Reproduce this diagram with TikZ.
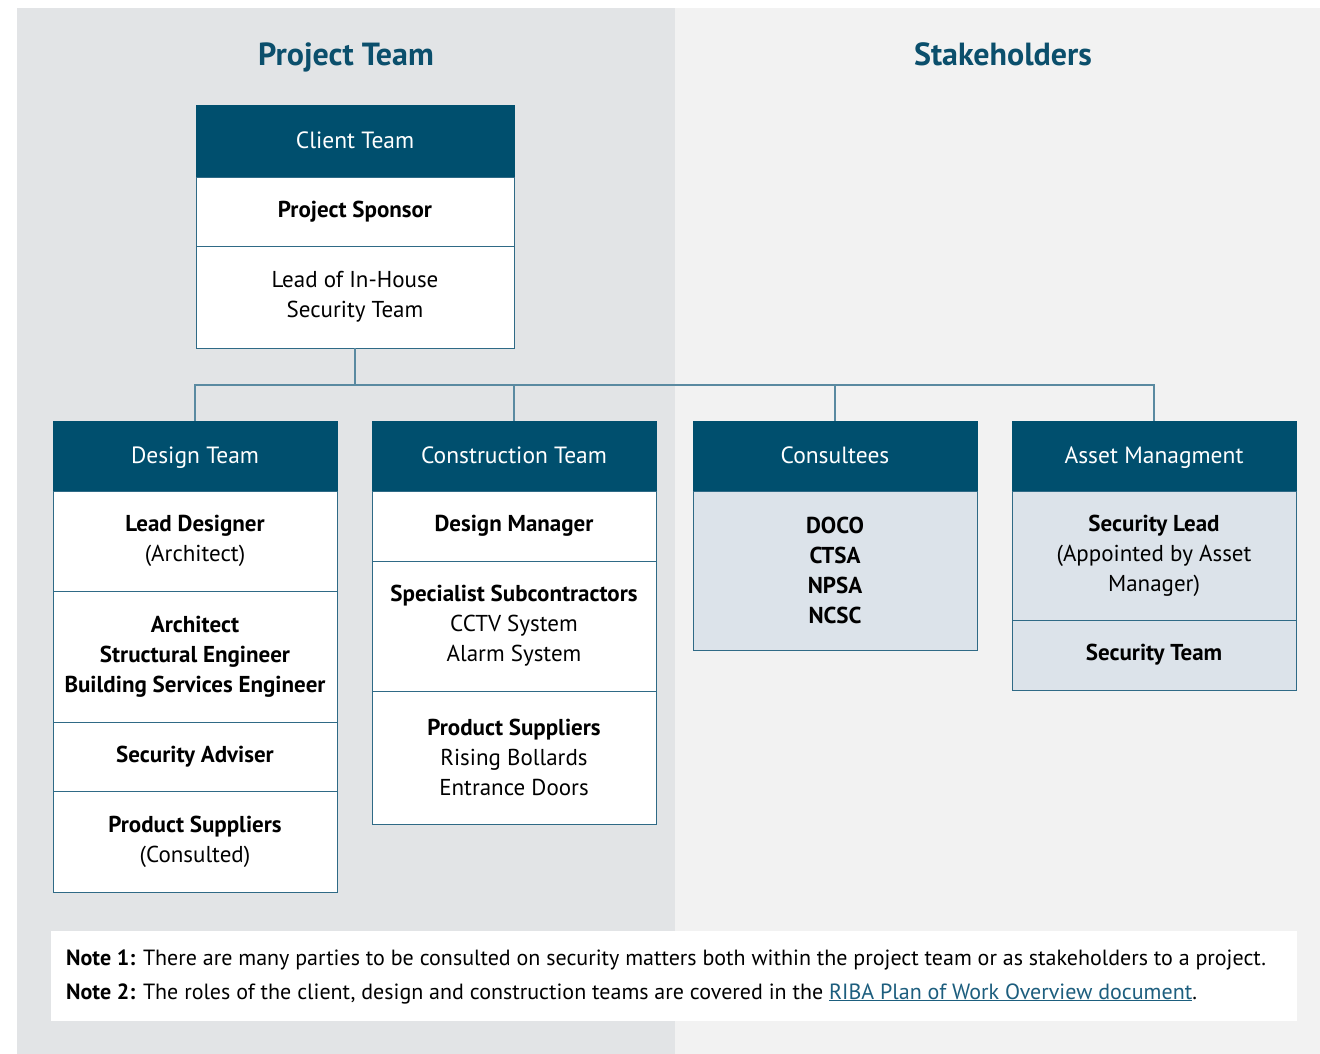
\documentclass[tikz,border=0pt]{standalone}
\usepackage{fontspec}
\setmainfont{PT Sans}
\usepackage{xcolor}
\definecolor{hdrblue}{HTML}{004F6E}
\definecolor{titleblue}{HTML}{0B4F6C}
\definecolor{edgeblue}{HTML}{2F6A86}
\definecolor{linkline}{HTML}{5A8AA1}
\definecolor{paleblue}{HTML}{DCE3EA}
\definecolor{panelL}{HTML}{E2E4E6}
\definecolor{panelR}{HTML}{F2F2F2}
\definecolor{linktext}{HTML}{1D5E7E}
\begin{document}
\begin{tikzpicture}[x=1pt,y=-1pt,
  box/.style={anchor=north west,inner sep=0pt,outer sep=0pt,align=center,
    line width=1pt,font=\fontsize{23}{30}\selectfont},
  hdr/.style={box,fill=hdrblue,draw=hdrblue,text=white,font=\fontsize{23.5}{30}\selectfont,
    text height=18pt,text depth=3pt},
  cell/.style={box,fill=white,draw=edgeblue,text=black},
  pcell/.style={box,fill=paleblue,draw=edgeblue,text=black},
  title/.style={text=titleblue,font=\fontsize{32}{36}\selectfont\bfseries,
    text height=23pt,text depth=7pt,inner sep=0pt},
  note/.style={anchor=base west,inner sep=0pt,font=\fontsize{22}{26}\selectfont},
  wire/.style={draw=linkline,line width=1.2pt}]
\useasboundingbox (0,0) rectangle (1320,1054);
\fill[white] (0,0) rectangle (1320,1054);
% two background panels
\fill[panelL] (17,8) rectangle (675,1054);
\fill[panelR] (675,8) rectangle (1320,1054);

\node[title] (tProj) at (346,58) {Project Team};
\node[title] (tStake) at (1003,58) {Stakeholders};

% client team
\node[hdr,minimum width=318,minimum height=71] (cH) at (196,106) {Client Team};
\node[cell,minimum width=318,minimum height=69] (cSp) at (196,177) {\textbf{Project Sponsor}};
\node[cell,minimum width=318,minimum height=102] (cLd) at (196,246) {Lead of In-House\\Security Team};

% design team
\node[hdr,minimum width=284,minimum height=70] (dH) at (53,421) {Design Team};
\node[cell,minimum width=284,minimum height=100] (d1) at (53,491) {\textbf{Lead Designer}\\(Architect)};
\node[cell,minimum width=284,minimum height=131] (d2) at (53,591) {\textbf{Architect}\\\textbf{Structural Engineer}\\\textbf{Building Services Engineer}};
\node[cell,minimum width=284,minimum height=69] (d3) at (53,722) {\textbf{Security Adviser}};
\node[cell,minimum width=284,minimum height=101] (d4) at (53,791) {\textbf{Product Suppliers}\\(Consulted)};

% construction team
\node[hdr,minimum width=284,minimum height=70] (kH) at (372,421) {Construction Team};
\node[cell,minimum width=284,minimum height=70] (k1) at (372,491) {\textbf{Design Manager}};
\node[cell,minimum width=284,minimum height=130] (k2) at (372,561) {\textbf{Specialist Subcontractors}\\CCTV System\\Alarm System};
\node[cell,minimum width=284,minimum height=133] (k3) at (372,691) {\textbf{Product Suppliers}\\Rising Bollards\\Entrance Doors};

% consultees
\node[hdr,minimum width=284,minimum height=70] (sH) at (693,421) {Consultees};
\node[pcell,minimum width=284,minimum height=159] (s1) at (693,491) {\textbf{DOCO}\\\textbf{CTSA}\\\textbf{NPSA}\\\textbf{NCSC}};

% asset management
\node[hdr,minimum width=284,minimum height=70] (aH) at (1012,421) {Asset Managment};
\node[pcell,minimum width=284,minimum height=129] (a1) at (1012,491) {\textbf{Security Lead}\\(Appointed by Asset\\Manager)};
\node[pcell,minimum width=284,minimum height=70] (a2) at (1012,620) {\textbf{Security Team}};

% connectors
\coordinate (bus) at (355,385);
\draw[wire] (cLd.south) -- (bus);
\draw[wire] (dH.north) -- (dH.north |- bus) -| (aH.north);
\draw[wire] (kH.north) -- (kH.north |- bus);
\draw[wire] (sH.north) -- (sH.north |- bus);

% notes
\fill[white] (51,931) rectangle (1297,1021);
\node[note] (n1) at (66,965)
  {\textbf{Note 1:} There are many parties to be consulted on security matters both within the project team or as stakeholders to a project.};
\node[note] (n2) at (66,999)
  {\textbf{Note 2:} The roles of the client, design and construction teams are covered in the {\color{linktext}\underline{RIBA Plan of Work Overview document}}.};
\end{tikzpicture}
\end{document}
